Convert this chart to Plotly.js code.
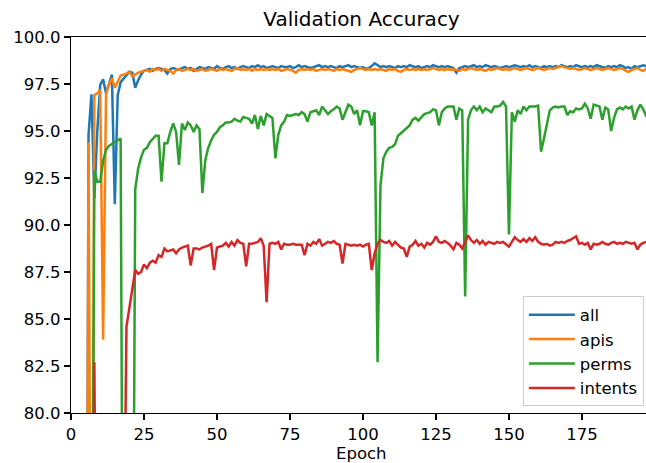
<!DOCTYPE html>
<html>
<head>
<meta charset="utf-8">
<script src="https://cdn.plot.ly/plotly-3.0.1.min.js"></script>
<style>
html,body{margin:0;padding:0;overflow:hidden;background:#fff;}
#chart{width:652px;height:463px;}
</style>
</head>
<body>
<div id="chart"></div>
<script>
// Validation accuracy per epoch (epochs 0..199)
var allAcc = [
30.5, 35.2, 38.9, 41.7, 43.6, 45.8, 94.8, 96.95, 91.4, 95.0,
97.45, 97.75, 97.0, 97.5, 98.0, 91.1, 96.9, 97.6, 97.8, 97.95,
98.15, 98.1, 97.3, 97.7, 98.0, 98.2, 98.25, 98.3, 98.2, 98.3,
98.35, 98.3, 98.25, 98.05, 98.3, 98.35, 98.3, 98.25, 98.35, 98.4,
98.3, 98.35, 98.2, 98.3, 98.4, 98.35, 98.3, 98.4, 98.35, 98.3,
98.45, 98.35, 98.3, 98.4, 98.45, 98.35, 98.4, 98.3, 98.4, 98.45,
98.4, 98.35, 98.45, 98.4, 98.5, 98.4, 98.45, 98.35, 98.4, 98.45,
98.4, 98.35, 98.45, 98.4, 98.4, 98.45, 98.35, 98.4, 98.5, 98.4,
98.45, 98.4, 98.35, 98.4, 98.45, 98.5, 98.4, 98.45, 98.4, 98.45,
98.4, 98.35, 98.45, 98.4, 98.45, 98.5, 98.4, 98.45, 98.4, 98.35,
98.4, 98.3, 98.35, 98.45, 98.6, 98.5, 98.4, 98.45, 98.4, 98.45,
98.4, 98.35, 98.45, 98.4, 98.45, 98.4, 98.5, 98.45, 98.4, 98.45,
98.35, 98.4, 98.45, 98.4, 98.5, 98.45, 98.4, 98.45, 98.4, 98.45,
98.4, 98.35, 98.1, 98.35, 98.4, 98.45, 98.4, 98.45, 98.5, 98.4,
98.45, 98.4, 98.5, 98.45, 98.4, 98.45, 98.4, 98.35, 98.4, 98.45,
98.4, 98.45, 98.5, 98.45, 98.4, 98.45, 98.4, 98.5, 98.4, 98.45,
98.4, 98.35, 98.45, 98.4, 98.45, 98.4, 98.45, 98.4, 98.5, 98.45,
98.4, 98.45, 98.4, 98.5, 98.45, 98.4, 98.45, 98.4, 98.45, 98.4,
98.5, 98.45, 98.4, 98.35, 98.45, 98.4, 98.45, 98.4, 98.5, 98.45,
98.35, 98.4, 98.3, 98.45, 98.4, 98.45, 98.5, 98.45, 98.4, 98.45
];
var apisAcc = [
28.4, 33.0, 36.5, 39.2, 41.8, 44.1, 94.4, 60.0, 96.9, 97.0,
97.2, 83.9, 97.0, 97.45, 97.8, 97.3, 97.6, 97.95, 98.0, 98.05,
98.15, 97.9, 98.0, 98.1, 98.15, 98.2, 98.25, 98.15, 98.3, 98.25,
98.3, 98.2, 98.3, 98.25, 98.2, 98.05, 98.25, 98.3, 98.2, 98.25,
98.3, 98.25, 98.3, 98.2, 98.25, 98.3, 98.2, 98.25, 98.3, 98.25,
98.2, 98.3, 98.25, 98.3, 98.25, 98.2, 98.3, 98.35, 98.25, 98.3,
98.25, 98.3, 98.2, 98.3, 98.25, 98.3, 98.25, 98.3, 98.25, 98.3,
98.25, 98.3, 98.2, 98.25, 98.3, 98.25, 98.2, 98.1, 98.25, 98.3,
98.25, 98.3, 98.25, 98.3, 98.2, 98.25, 98.3, 98.25, 98.3, 98.25,
98.2, 98.3, 98.25, 98.3, 98.25, 98.2, 98.15, 98.25, 98.3, 98.35,
98.3, 98.25, 98.3, 98.25, 98.3, 98.25, 98.3, 98.25, 98.2, 98.3,
98.25, 98.3, 98.2, 98.15, 98.25, 98.3, 98.25, 98.3, 98.25, 98.3,
98.25, 98.3, 98.25, 98.3, 98.35, 98.3, 98.25, 98.3, 98.25, 98.3,
98.25, 98.3, 98.25, 98.2, 98.3, 98.25, 98.3, 98.35, 98.3, 98.25,
98.3, 98.25, 98.2, 98.3, 98.25, 98.3, 98.35, 98.3, 98.25, 98.3,
98.25, 98.3, 98.35, 98.3, 98.25, 98.3, 98.35, 98.3, 98.25, 98.3,
98.35, 98.3, 98.25, 98.3, 98.35, 98.3, 98.35, 98.4, 98.45, 98.4,
98.35, 98.3, 98.35, 98.3, 98.25, 98.3, 98.35, 98.3, 98.25, 98.3,
98.35, 98.3, 98.25, 98.3, 98.35, 98.3, 98.25, 98.3, 98.35, 98.3,
98.2, 98.15, 98.25, 98.3, 98.35, 98.25, 98.2, 98.3, 98.25, 98.3
];
var permsAcc = [
22.4, 30.5, 38.2, 44.0, 48.6, 52.1, 55.3, 57.5, 92.9, 92.3,
92.3, 93.4, 94.0, 94.2, 94.3, 94.4, 94.5, 94.6, 60.0, 55.2,
58.4, 61.0, 91.9, 93.0, 93.6, 94.0, 94.1, 94.4, 94.6, 94.75,
94.75, 92.3, 94.35, 94.35, 94.95, 95.4, 94.95, 93.2, 95.4, 95.05,
95.45, 95.3, 94.95, 95.3, 95.1, 91.7, 93.45, 94.1, 94.5, 94.8,
94.95, 95.2, 95.3, 95.45, 95.45, 95.5, 95.65, 95.55, 95.5, 95.75,
95.7, 95.65, 95.4, 95.85, 95.1, 95.8, 95.3, 95.9, 95.8, 95.7,
93.55, 94.8, 95.3, 95.5, 95.85, 95.8, 95.85, 95.9, 95.85, 96.0,
95.9, 95.5, 96.0, 96.05, 96.1, 95.85, 96.3, 96.1, 95.9, 96.05,
96.15, 96.3, 96.2, 95.6, 96.0, 96.4, 96.3, 95.9, 96.1, 95.3,
96.05, 96.05, 96.0, 95.3, 96.0, 82.7, 92.1, 93.55, 93.9, 94.1,
94.15, 94.3, 94.75, 94.9, 95.0, 95.2, 95.3, 95.6, 95.7, 95.55,
95.75, 95.9, 95.95, 96.0, 96.15, 96.1, 95.3, 96.0, 96.2, 96.3,
96.3, 96.3, 95.6, 96.2, 96.1, 86.2, 95.6, 96.1, 96.3, 96.1,
96.3, 96.0, 96.2, 96.1, 96.0, 96.3, 96.3, 96.35, 96.55, 96.3,
89.5, 96.0, 95.5, 96.1, 95.9, 96.3, 96.1, 96.3, 96.3, 96.3,
96.35, 93.9, 94.6, 95.4, 96.1, 96.25, 96.3, 96.25, 96.3, 96.3,
95.85, 96.05, 96.0, 96.2, 96.15, 96.2, 96.45, 96.2, 95.65, 96.4,
96.35, 96.3, 95.6, 96.25, 96.15, 95.0, 95.7, 96.15, 96.25, 96.15,
96.3, 96.2, 96.3, 95.6, 96.1, 96.4, 96.15, 95.8, 95.9, 96.0
];
var intentsAcc = [
35.1, 42.3, 46.8, 50.2, 52.7, 55.4, 57.9, 58.6, 82.7, 60.4,
63.8, 65.1, 67.3, 69.0, 70.2, 71.8, 72.5, 73.4, 70.0, 84.6,
85.6, 86.8, 87.6, 87.4, 87.5, 87.9, 87.7, 88.0, 88.1, 88.0,
88.4, 88.3, 88.75, 88.6, 88.65, 88.7, 88.5, 88.7, 88.8, 88.85,
88.9, 87.85, 88.75, 88.75, 88.7, 88.8, 88.85, 88.9, 89.0, 87.6,
88.8, 88.85, 88.9, 89.05, 88.85, 89.1, 88.9, 89.2, 89.05, 89.0,
87.8, 89.0, 89.0, 89.05, 89.1, 89.3, 88.9, 85.9, 89.0, 89.05,
89.0, 89.1, 88.7, 89.0, 88.95, 88.95, 89.0, 88.95, 88.95, 88.95,
88.4, 89.0, 88.9, 89.1, 89.0, 89.25, 88.9, 89.0, 89.1, 89.05,
89.15, 89.0, 88.95, 87.95, 89.0, 88.95, 88.9, 88.95, 88.9, 88.95,
88.85, 88.95, 89.0, 87.6, 88.5, 89.0, 89.2, 89.1, 89.05, 89.15,
88.9, 89.1, 88.95, 88.8, 88.75, 88.3, 88.85, 88.95, 89.15, 88.9,
89.0, 88.8, 89.05, 88.95, 89.1, 89.4, 89.1, 89.05, 89.15, 89.05,
88.9, 88.7, 89.05, 88.95, 88.75, 89.1, 89.45, 89.2, 89.05, 89.2,
89.0, 89.15, 88.95, 89.1, 89.05, 89.0, 89.1, 89.05, 89.1, 88.95,
88.85, 89.1, 89.35, 89.2, 89.1, 89.25, 89.1, 89.3, 89.15, 89.35,
89.1, 89.0, 88.95, 89.0, 88.9, 88.95, 89.1, 89.05, 89.1, 89.05,
89.15, 89.2, 89.3, 89.4, 89.0, 89.05, 88.95, 89.05, 88.7, 89.0,
88.95, 89.0, 89.1, 89.0, 88.95, 89.05, 89.1, 89.0, 89.05, 89.0,
89.1, 89.05, 89.0, 89.05, 88.7, 88.95, 89.05, 89.1, 89.0, 89.05
];
var seriesNames = ["all", "apis", "perms", "intents"];
var seriesColors = ["#1f77b4", "#ff7f0e", "#2ca02c", "#d62728"];
var yTickVals = [80, 82.5, 85, 87.5, 90, 92.5, 95, 97.5, 100];
var xTickVals = [0, 25, 50, 75, 100, 125, 150, 175];

var epochs = allAcc.map(function (_, i) { return i; });
var seriesData = [allAcc, apisAcc, permsAcc, intentsAcc];

var traces = seriesData.map(function (vals, k) {
  return {
    x: epochs,
    y: vals,
    type: "scatter",
    mode: "lines",
    name: seriesNames[k],
    line: { color: seriesColors[k], width: 2.5 },
    hoverinfo: "skip"
  };
});

var font = { family: "DejaVu Sans, sans-serif", size: 16.5, color: "#000" };

var layout = {
  width: 652,
  height: 463,
  margin: { l: 71, r: 0, t: 37, b: 50, pad: 0 },
  paper_bgcolor: "#fff",
  plot_bgcolor: "#fff",
  font: font,
  showlegend: true,
  title: {
    text: "Validation Accuracy",
    font: { family: "DejaVu Sans, sans-serif", size: 20, color: "#000" },
    xref: "paper", x: 0.5, xanchor: "center",
    yref: "container", y: 1 - 19 / 463, yanchor: "middle"
  },
  xaxis: {
    range: [0, 199],
    tickvals: xTickVals,
    ticktext: xTickVals.map(String),
    ticks: "outside", ticklen: 6, tickwidth: 1.3, tickcolor: "#000",
    showline: true, linecolor: "#000", linewidth: 1.3, mirror: true,
    showgrid: false, zeroline: false,
    tickfont: font,
    automargin: false
  },
  yaxis: {
    range: [80, 100],
    tickvals: yTickVals,
    ticktext: yTickVals.map(function (v) { return v.toFixed(1); }),
    ticks: "outside", ticklen: 6, tickwidth: 1.3, tickcolor: "#000",
    showline: true, linecolor: "#000", linewidth: 1.3, mirror: true,
    showgrid: false, zeroline: false,
    tickfont: font,
    automargin: false
  },
  annotations: [{
    text: "Epoch",
    xref: "paper", x: 0.5, xanchor: "center",
    yref: "paper", y: -(453.5 - 413) / 376, yanchor: "middle",
    showarrow: false,
    font: font
  }],
  legend: {
    x: 0.986, xanchor: "right",
    y: 0.31, yanchor: "top",
    bgcolor: "rgba(255,255,255,0.8)",
    bordercolor: "#cccccc",
    borderwidth: 1,
    itemwidth: 46,
    font: font,
    traceorder: "normal"
  }
};

Plotly.newPlot("chart", traces, layout, { displayModeBar: false, staticPlot: true });
</script>
</body>
</html>
